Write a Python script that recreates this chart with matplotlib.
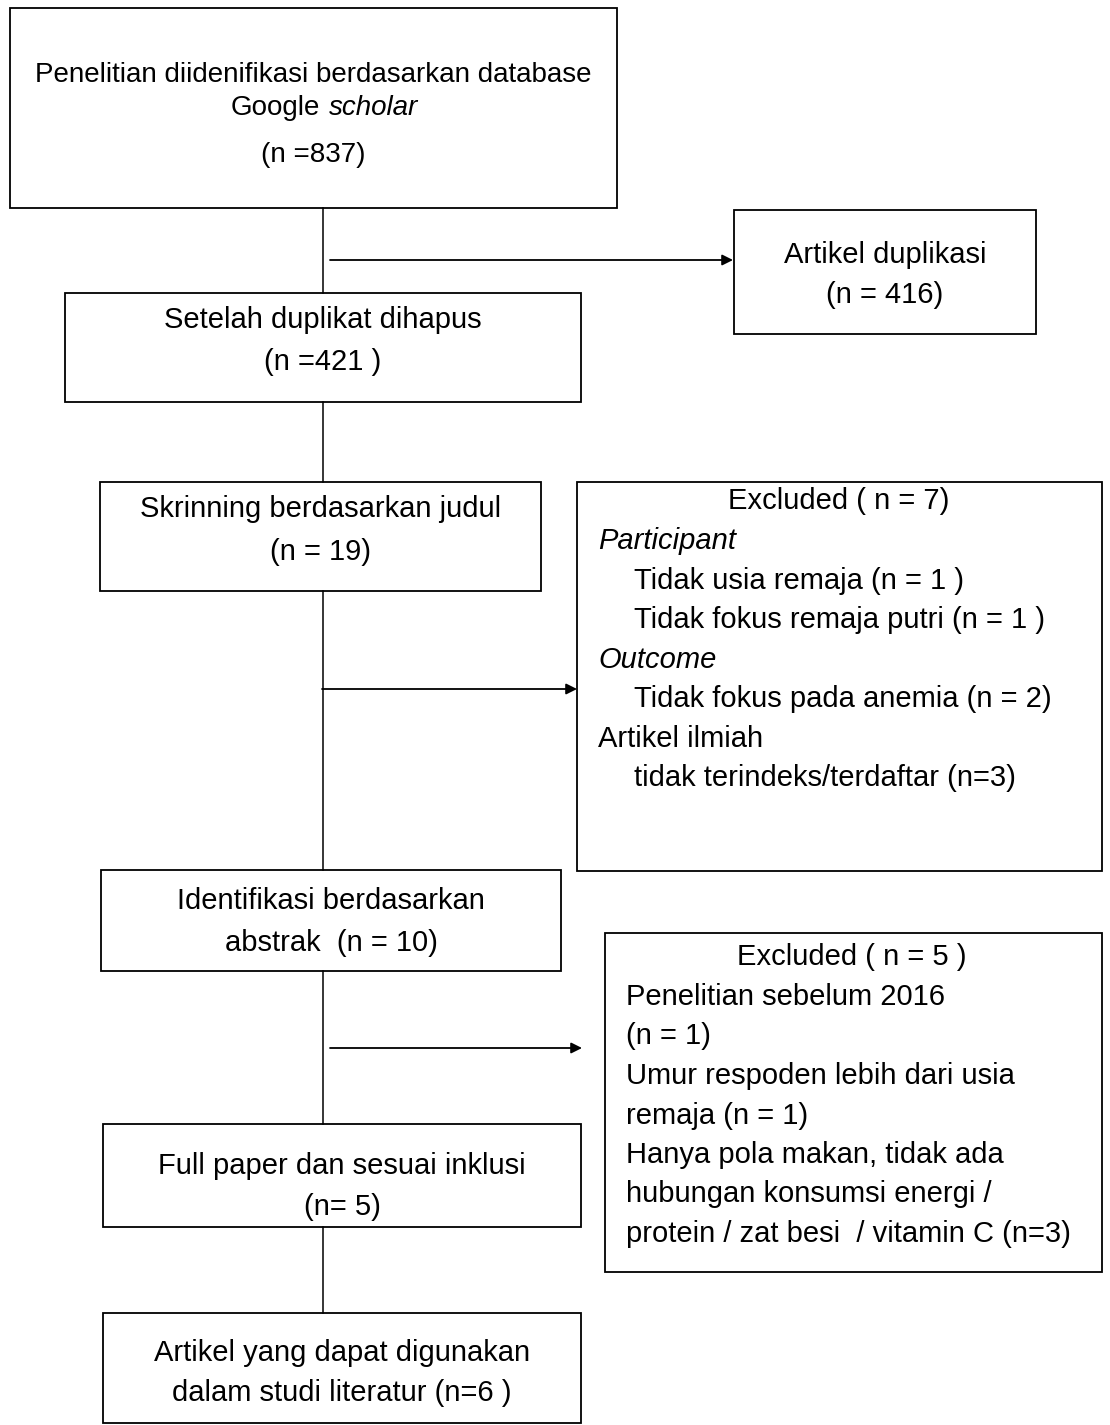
import matplotlib
matplotlib.use("Agg")
import matplotlib.pyplot as plt
from matplotlib.patches import Rectangle

plt.rcParams['font.family'] = ['Liberation Sans', 'DejaVu Sans']
FS = 21
FS_TOP = 20

# box texts of the flow
top_lines = ["Penelitian diidenifikasi berdasarkan database", "Google", "scholar", "(n =837)"]
box_texts = [
    "Setelah duplikat dihapus\n(n =421 )",
    "Skrinning berdasarkan judul\n(n = 19)",
    "Identifikasi berdasarkan\nabstrak  (n = 10)",
    "Full paper dan sesuai inklusi\n(n= 5)",
    "Artikel yang dapat digunakan\ndalam studi literatur (n=6 )",
]
dup_text = "Artikel duplikasi\n(n = 416)"

excl1_title = "Excluded ( n = 7)"
excl1_lines = [
    ("Participant", 0, "italic"),
    ("Tidak usia remaja (n = 1 )", 1, "normal"),
    ("Tidak fokus remaja putri (n = 1 )", 1, "normal"),
    ("Outcome", 0, "italic"),
    ("Tidak fokus pada anemia (n = 2)", 1, "normal"),
    ("Artikel ilmiah", 0, "normal"),
    ("tidak terindeks/terdaftar (n=3)", 1, "normal"),
]
excl2_title = "Excluded ( n = 5 )"
excl2_lines = [
    "Penelitian sebelum 2016",
    "(n = 1)",
    "Umur respoden lebih dari usia",
    "remaja (n = 1)",
    "Hanya pola makan, tidak ada",
    "hubungan konsumsi energi /",
    "protein / zat besi  / vitamin C (n=3)",
]

fig = plt.figure(figsize=(11.1, 14.25), dpi=100)
ax = fig.add_axes([0, 0, 1, 1])
ax.set_xlim(0, 1110)
ax.set_ylim(1425, 0)
ax.axis("off")


def box(x0, y0, x1, y1):
    ax.add_patch(Rectangle((x0, y0), x1 - x0, y1 - y0, fill=False,
                           edgecolor="black", linewidth=1.3))


# main column boxes
top_box = (10, 8, 617, 208)
main_boxes = [(65, 293, 581, 402), (100, 482, 541, 591),
              (101, 870, 561, 971), (103, 1124, 581, 1227), (103, 1313, 581, 1423)]
box(*top_box)
for b in main_boxes:
    box(*b)

# first box, with "scholar" in italics
cx = (top_box[0] + top_box[2]) / 2
ax.text(cx, 75, top_lines[0], ha="center", va="center", fontsize=FS_TOP)
ax.text(320, 108, top_lines[1], ha="right", va="center", fontsize=FS_TOP)
ax.text(329, 108, top_lines[2], ha="left", va="center", fontsize=FS_TOP, style="italic")
ax.text(cx, 155, top_lines[3], ha="center", va="center", fontsize=FS_TOP)

text_y = [(320, 362), (509, 552), (901, 943), (1166, 1207), (1353, 1393)]
for b, s, (ya, yb) in zip(main_boxes, box_texts, text_y):
    a, c = s.split("\n")
    ax.text((b[0] + b[2]) / 2, ya, a, ha="center", va="center", fontsize=FS)
    ax.text((b[0] + b[2]) / 2, yb, c, ha="center", va="center", fontsize=FS)

# duplicate box
box(734, 210, 1036, 334)
a, c = dup_text.split("\n")
ax.text(885, 255, a, ha="center", va="center", fontsize=FS)
ax.text(885, 295, c, ha="center", va="center", fontsize=FS)

# excluded box 1
box(577, 482, 1102, 871)
ax.text(839, 501, excl1_title, ha="center", va="center", fontsize=FS)
for k, (s, ind, st) in enumerate(excl1_lines):
    ax.text(598 + 36 * ind, 541 + 39.5 * k, s, ha="left", va="center",
            fontsize=FS, style=st)

# excluded box 2
box(605, 933, 1102, 1272)
ax.text(852, 957, excl2_title, ha="center", va="center", fontsize=FS)
for k, s in enumerate(excl2_lines):
    ax.text(626, 997 + 39.5 * k, s, ha="left", va="center", fontsize=FS)

# vertical connectors
for (ya, yb) in [(208, 293), (402, 482), (591, 870), (971, 1124), (1227, 1313)]:
    ax.plot([323, 323], [ya, yb], color="black", linewidth=1.1)

# horizontal arrows
for (xa, xb, y) in [(330, 733, 260), (322, 577, 689), (330, 582, 1048)]:
    ax.annotate("", xy=(xb, y), xytext=(xa, y),
                arrowprops=dict(arrowstyle="-|>", color="black", lw=1.3,
                                mutation_scale=16, shrinkA=0, shrinkB=0))

fig.savefig("out.png", dpi=100)
